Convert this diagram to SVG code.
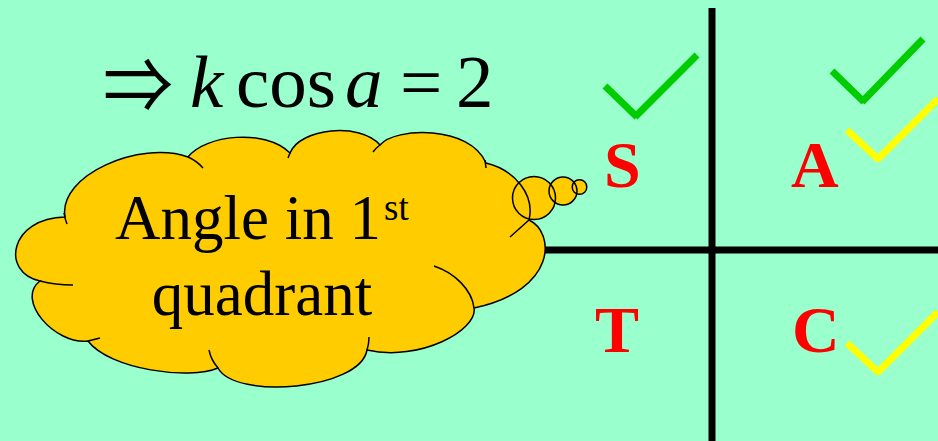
<svg xmlns="http://www.w3.org/2000/svg" width="938" height="441" viewBox="0 0 938 441">
<style>
.serif{font-family:"Liberation Serif","Times New Roman",serif;fill:#000}
.lbl{font-family:"Liberation Serif","Times New Roman",serif;font-weight:bold;fill:#FF0000;font-size:66px}
.axis{stroke:#000;stroke-width:7;fill:none}
.green{stroke:#00CC00;stroke-width:7;fill:none;stroke-linecap:butt}
.yellow{stroke:#FFFF00;stroke-width:7;fill:none;stroke-linecap:butt}
.cloudfill{fill:#FFCC00;stroke:none}
.cloudline{fill:none;stroke:#000;stroke-width:1.5}
</style>
<rect width="938" height="441" fill="#99FFCC"/>
<g id="connectors">
<line class="axis" x1="712" y1="8" x2="712" y2="441"/>
<line class="axis" x1="520" y1="250" x2="938" y2="250"/>
</g>
<g id="equation">
<text x="103" y="113" font-size="76" font-family="'Noto Sans CJK JP','DejaVu Serif',sans-serif" textLength="70" lengthAdjust="spacingAndGlyphs" fill="#000">⇒</text>
<text class="serif" x="190" y="107" font-size="75" font-style="italic">k</text>
<text class="serif" x="236" y="107" font-size="75">cos</text>
<text class="serif" x="345" y="107" font-size="75" font-style="italic">a</text>
<text class="serif" x="400" y="107" font-size="75">=</text>
<text class="serif" x="456" y="107" font-size="75">2</text>
</g>
<g id="cloud">
<path class="cloudfill" d="M65,217 C58,175 140,140 188,157 C205,135 265,128 290,153 C300,128 360,122 380,145 C395,127 470,125 486,163 C515,170 535,195 529,220 C555,232 558,290 474,308 C478,330 420,362 367,350 C360,390 235,400 218,368 C190,380 110,370 88,341 C55,345 15,300 40,281 C0,272 10,218 65,217 Z"/>
<circle class="cloudfill" cx="534" cy="198" r="21.5"/>
<circle class="cloudfill" cx="563" cy="191" r="14"/>
<circle class="cloudfill" cx="579.5" cy="187" r="7.3"/>
<path class="cloudline" d="M65,217 C58,175 140,140 188,157 C205,135 265,128 290,153 C300,128 360,122 380,145 C395,127 470,125 486,163 C515,170 535,195 529,220 C555,232 558,290 474,308 C478,330 420,362 367,350 C360,390 235,400 218,368 C190,380 110,370 88,341 C55,345 15,300 40,281 C0,272 10,218 65,217 Z"/>
<path class="cloudline" d="M64,213 Q65,219 67,224 M188,157 Q197,161 203,168 M290,153 L288,158 M380,145 Q376,148 373,152 M485,160 L486,168 M529,220 Q520,228 510,237 M434,266 C455,273 472,290 474,308 M369,337 Q369,344 367,350 M218,368 Q211,360 209,350 M88,341 L100,338 M40,281 Q55,285 73,285"/>
<circle class="cloudline" cx="534" cy="198" r="21.5"/>
<circle class="cloudline" cx="563" cy="191" r="14"/>
<circle class="cloudline" cx="579.5" cy="187" r="7.3"/>
<text class="serif" x="115" y="239" font-size="63">Angle in 1</text>
<text class="serif" x="384" y="220" font-size="37">st</text>
<text class="serif" x="262" y="315" font-size="63" text-anchor="middle">quadrant</text>
</g>
<g id="S"><text class="lbl" x="604" y="187">S</text></g>
<g id="A"><text class="lbl" x="791" y="187">A</text></g>
<g id="T"><text class="lbl" x="595" y="352">T</text></g>
<g id="C"><text class="lbl" x="792" y="352">C</text></g>
<g id="checks">
<path class="green" d="M605,86 L637,117 M635,117 L697,55"/>
<path class="green" d="M832,71 L864,102 M862,102 L923,39"/>
<path class="yellow" d="M847,130 L879,160 M877,160 L938,99"/>
<path class="yellow" d="M847,343 L879,373 M877,373 L938,312"/>
</g>
</svg>
